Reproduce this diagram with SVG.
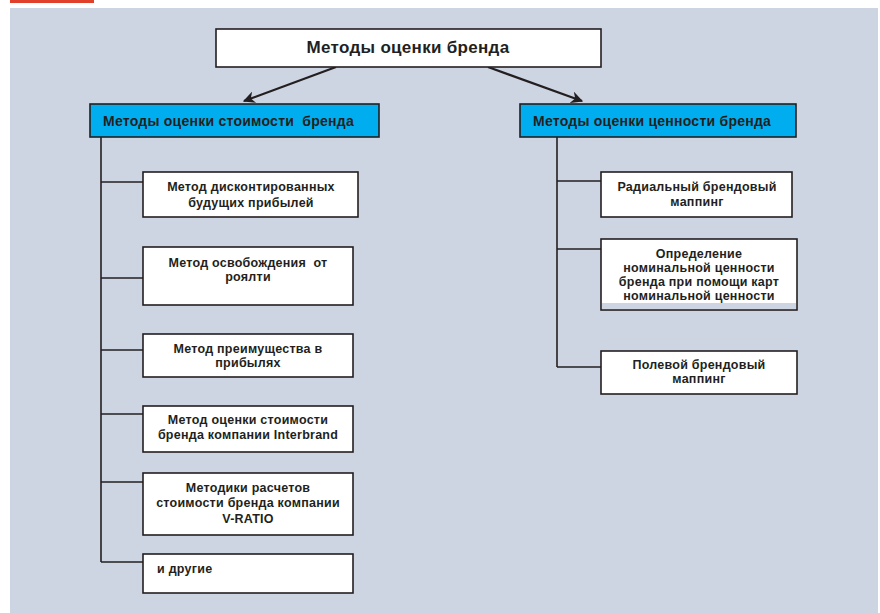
<svg xmlns="http://www.w3.org/2000/svg" width="880" height="613" viewBox="0 0 880 613">
  <defs>
    <style>
      .panel { fill: #cdd5e2; }
      .box { fill: #ffffff; stroke: #231f20; stroke-width: 1.6; }
      .head { fill: #00aeef; stroke: #231f20; stroke-width: 1.6; }
      .link { fill: none; stroke: #231f20; stroke-width: 1.6; }
      .arrow { fill: none; stroke: #231f20; stroke-width: 2.2; }
      text { font-family: "Liberation Sans", Arial, sans-serif; font-weight: bold; fill: #231f20; }
      .t12 { font-size: 12.5px; letter-spacing: 0.25px; text-anchor: middle; }
      .t13 { font-size: 14px; letter-spacing: 0.25px; }
      .t16 { font-size: 17px; letter-spacing: 0.3px; text-anchor: middle; }
    </style>
    <marker id="tip" viewBox="0 0 10 10" refX="9" refY="5" markerWidth="5.5" markerHeight="5.5" orient="auto" markerUnits="strokeWidth">
      <path d="M0,0 L10,5 L0,10 L3,5 Z" fill="#231f20"/>
    </marker>
  </defs>

  <!-- page -->
  <rect x="0" y="0" width="880" height="613" fill="#ffffff"/>
  <rect x="10" y="0" width="84" height="3" fill="#e0402a"/>
  <rect class="panel" x="10" y="8" width="868" height="605"/>

  <!-- connectors -->
  <g id="connectors">
    <line class="arrow" x1="336" y1="67" x2="244" y2="101" marker-end="url(#tip)"/>
    <line class="arrow" x1="488" y1="67" x2="582" y2="101" marker-end="url(#tip)"/>
    <!-- left trunk -->
    <path class="link" d="M101,137 V562"/>
    <path class="link" d="M101,182 H143 M101,278 H143 M101,350 H143 M101,414 H143 M101,482 H143 M101,562 H143"/>
    <!-- right trunk -->
    <path class="link" d="M557,137 V367"/>
    <path class="link" d="M557,181 H601 M557,249 H601 M557,367 H601"/>
  </g>

  <!-- root -->
  <g id="root">
    <rect class="box" x="216" y="29" width="385" height="38"/>
    <text class="t16" x="408" y="53">Методы оценки бренда</text>
  </g>

  <!-- category heads -->
  <g id="cost-methods">
    <rect class="head" x="90" y="104" width="289" height="33"/>
    <text class="t13" x="103" y="126" xml:space="preserve">Методы оценки стоимости  бренда</text>
  </g>
  <g id="value-methods">
    <rect class="head" x="520" y="104" width="276" height="33"/>
    <text class="t13" x="533" y="126">Методы оценки ценности бренда</text>
  </g>

  <!-- cost method nodes -->
  <g id="dcf">
    <rect class="box" x="143" y="172" width="215" height="45"/>
    <text class="t12" x="251" y="191">Метод дисконтированных</text>
    <text class="t12" x="251" y="207">будущих прибылей</text>
  </g>
  <g id="royalty-relief">
    <rect class="box" x="143" y="247" width="210" height="58"/>
    <text class="t12" x="248" y="267" xml:space="preserve">Метод освобождения  от</text>
    <text class="t12" x="248" y="281">роялти</text>
  </g>
  <g id="profit-advantage">
    <rect class="box" x="143" y="334" width="210" height="43"/>
    <text class="t12" x="248" y="353">Метод преимущества в</text>
    <text class="t12" x="248" y="367">прибылях</text>
  </g>
  <g id="interbrand">
    <rect class="box" x="143" y="406" width="210" height="46"/>
    <text class="t12" x="248" y="424">Метод оценки стоимости</text>
    <text class="t12" x="248" y="439">бренда компании Interbrand</text>
  </g>
  <g id="v-ratio">
    <rect class="box" x="143" y="473" width="210" height="62"/>
    <text class="t12" x="248" y="492">Методики расчетов</text>
    <text class="t12" x="248" y="507">стоимости бренда компании</text>
    <text class="t12" x="248" y="523">V-RATIO</text>
  </g>
  <g id="others">
    <rect class="box" x="143" y="554" width="210" height="39"/>
    <text x="157" y="573" style="font-size:12.5px;letter-spacing:0.25px">и другие</text>
  </g>

  <!-- value method nodes -->
  <g id="radial-mapping">
    <rect class="box" x="601" y="172" width="191" height="45"/>
    <text class="t12" x="697" y="191">Радиальный брендовый</text>
    <text class="t12" x="697" y="206">маппинг</text>
  </g>
  <g id="nominal-value">
    <rect class="box" x="601" y="239" width="196" height="71"/>
    <rect x="602" y="303" width="194" height="6" fill="#cdd5e2"/>
    <text class="t12" x="699" y="258">Определение</text>
    <text class="t12" x="699" y="272">номинальной ценности</text>
    <text class="t12" x="699" y="286">бренда при помощи карт</text>
    <text class="t12" x="699" y="300">номинальной ценности</text>
  </g>
  <g id="field-mapping">
    <rect class="box" x="601" y="351" width="196" height="43"/>
    <text class="t12" x="699" y="369">Полевой брендовый</text>
    <text class="t12" x="699" y="383">маппинг</text>
  </g>
</svg>
